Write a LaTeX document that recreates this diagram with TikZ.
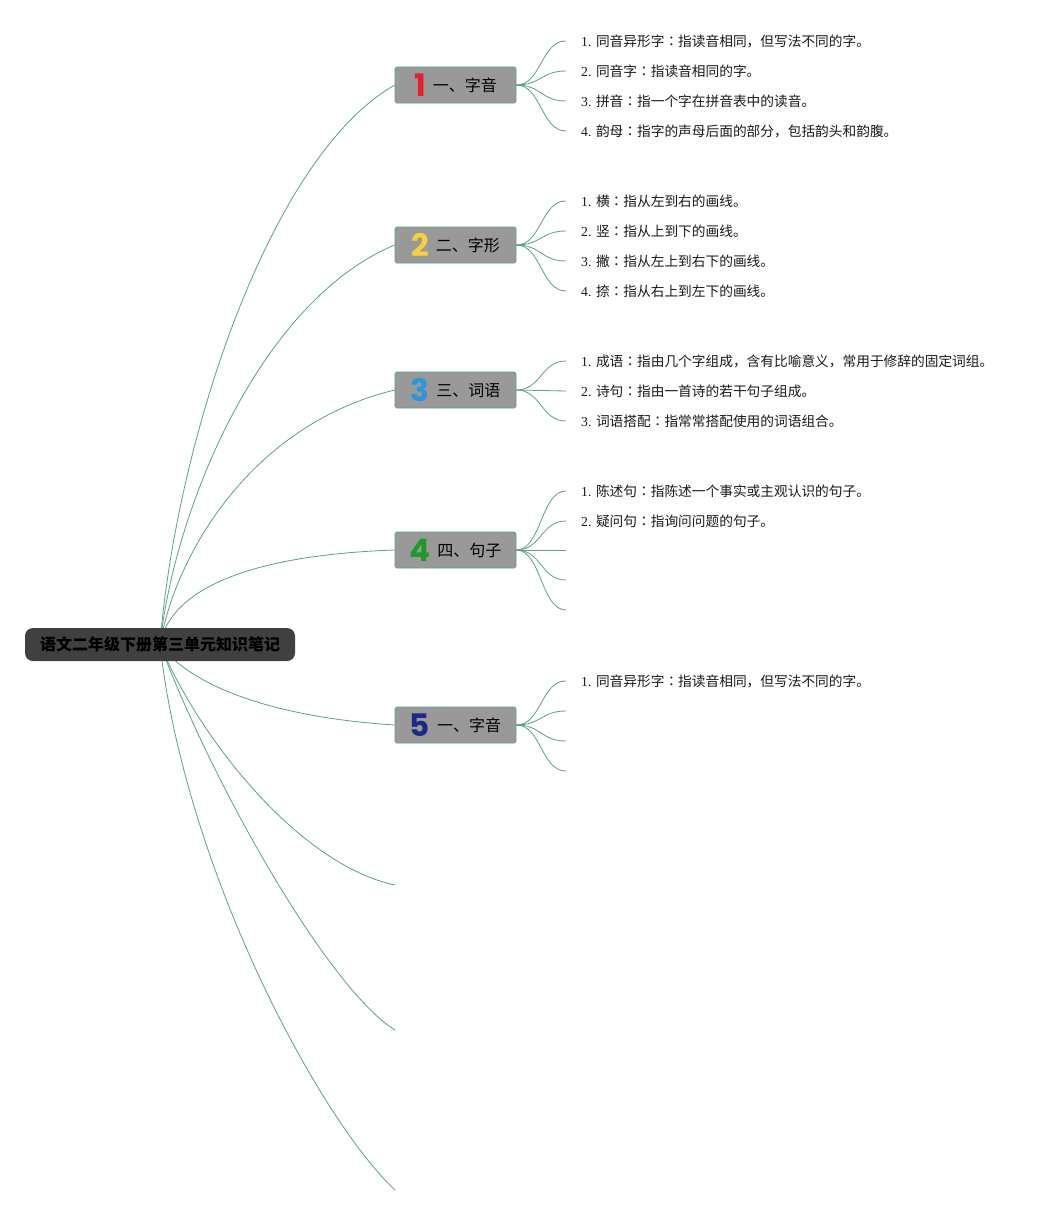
\documentclass[tikz,border=0pt]{standalone}
\usepackage{fontspec}
\setmainfont{Liberation Serif}
\newfontfamily\cjk{Noto Sans CJK SC}
\newfontfamily\cjktc{Noto Sans CJK TC}
\newfontfamily\digitfont{Poppins}
\usetikzlibrary{backgrounds}
\definecolor{linegreen}{HTML}{5E9E8A}
\definecolor{boxgray}{HTML}{999999}
\definecolor{rootgray}{HTML}{404040}
\definecolor{numred}{HTML}{E5202E}
\definecolor{numyellow}{HTML}{F4D23C}
\definecolor{numblue}{HTML}{2A96DC}
\definecolor{numgreen}{HTML}{1E9A2A}
\definecolor{numnavy}{HTML}{1C2A86}
\tikzset{
x=1pt, y=-1pt, % one unit is one pixel, y runs downwards
rootbox/.style={fill=rootgray, rounded corners=8pt, minimum width=270pt, minimum height=33pt, inner sep=0pt, text=black, font=\cjk\bfseries\fontsize{16}{16}\selectfont}, % the centre topic
topic/.style={fill=boxgray, draw=linegreen, line width=0.6pt, rounded corners=1.5pt, minimum width=121pt, minimum height=36pt, inner sep=0pt}, % main topics
leaf/.style={anchor=west, inner xsep=15pt, inner ysep=2pt, text=black!90, font=\fontsize{13.7}{16}\selectfont}, % the notes, west side is where the curve ends
branch/.style={draw=linegreen, line width=0.8pt}, % all connectors
}
\newcommand{\topictext}[3]{{\digitfont\bfseries\fontsize{31}{31}\selectfont\color{#1}#2}\hspace{7pt}\raisebox{5pt}{\cjk\fontsize{16}{16}\selectfont #3}}
\newcommand{\cncolon}{{\cjktc ：}}

\begin{document}
\begin{tikzpicture}
\useasboundingbox (0,0) rectangle (1061,1215);

% centre topic
\node[rootbox] (root) at (160,644.5) {语文二年级下册第三单元知识笔记};

% main topics
\node[topic] (b1) at (455.5,85) {\topictext{numred}{1}{一、字音}};
\node[topic] (b2) at (455.5,245) {\topictext{numyellow}{2}{二、字形}};
\node[topic] (b3) at (455.5,390) {\topictext{numblue}{3}{三、词语}};
\node[topic] (b4) at (455.5,550) {\topictext{numgreen}{4}{四、句子}};
\node[topic] (b5) at (455.5,725) {\topictext{numnavy}{5}{一、字音}};
\coordinate (e6) at (395,885);
\coordinate (e7) at (395,1030);
\coordinate (e8) at (395,1190);

% notes
\node[leaf] (t11) at (566,41) {1. {\cjk 同音异形字\cncolon 指读音相同，但写法不同的字。}};
\node[leaf] (t12) at (566,71) {2. {\cjk 同音字\cncolon 指读音相同的字。}};
\node[leaf] (t13) at (566,101) {3. {\cjk 拼音\cncolon 指一个字在拼音表中的读音。}};
\node[leaf] (t14) at (566,131) {4. {\cjk 韵母\cncolon 指字的声母后面的部分，包括韵头和韵腹。}};
\node[leaf] (t21) at (566,201) {1. {\cjk 横\cncolon 指从左到右的画线。}};
\node[leaf] (t22) at (566,231) {2. {\cjk 竖\cncolon 指从上到下的画线。}};
\node[leaf] (t23) at (566,261) {3. {\cjk 撇\cncolon 指从左上到右下的画线。}};
\node[leaf] (t24) at (566,291) {4. {\cjk 捺\cncolon 指从右上到左下的画线。}};
\node[leaf] (t31) at (566,361) {1. {\cjk 成语\cncolon 指由几个字组成，含有比喻意义，常用于修辞的固定词组。}};
\node[leaf] (t32) at (566,391) {2. {\cjk 诗句\cncolon 指由一首诗的若干句子组成。}};
\node[leaf] (t33) at (566,421) {3. {\cjk 词语搭配\cncolon 指常常搭配使用的词语组合。}};
\node[leaf] (t41) at (566,491) {1. {\cjk 陈述句\cncolon 指陈述一个事实或主观认识的句子。}};
\node[leaf] (t42) at (566,521) {2. {\cjk 疑问句\cncolon 指询问问题的句子。}};
\coordinate (e43) at (566,550);
\coordinate (e44) at (566,580);
\coordinate (e45) at (566,610);
\node[leaf] (t51) at (566,681) {1. {\cjk 同音异形字\cncolon 指读音相同，但写法不同的字。}};
\coordinate (e52) at (566,711);
\coordinate (e53) at (566,741);
\coordinate (e54) at (566,771);

\begin{scope}[on background layer]
% from the centre
\draw[branch] (root.center) .. controls (175,449) and (267,158) .. (b1.west);
\draw[branch] (root.center) .. controls (175,505) and (262,300) .. (b2.west);
\draw[branch] (root.center) .. controls (175,556) and (250,425) .. (b3.west);
\draw[branch] (root.center) .. controls (168,600) and (225,556) .. (b4.west);
\draw[branch] (root.center) .. controls (190,685) and (270,717) .. (b5.west);
\draw[branch] (root.center) .. controls (200,740) and (300,865) .. (e6);
\draw[branch] (root.center) .. controls (215,790) and (330,990) .. (e7);
\draw[branch] (root.center) .. controls (185,870) and (320,1120) .. (e8);
% to the notes
\draw[branch] (b1.east) .. controls +(25,0) and +(-25,0) .. (t11.west);
\draw[branch] (b1.east) .. controls +(25,0) and +(-25,0) .. (t12.west);
\draw[branch] (b1.east) .. controls +(25,0) and +(-25,0) .. (t13.west);
\draw[branch] (b1.east) .. controls +(25,0) and +(-25,0) .. (t14.west);
\draw[branch] (b2.east) .. controls +(25,0) and +(-25,0) .. (t21.west);
\draw[branch] (b2.east) .. controls +(25,0) and +(-25,0) .. (t22.west);
\draw[branch] (b2.east) .. controls +(25,0) and +(-25,0) .. (t23.west);
\draw[branch] (b2.east) .. controls +(25,0) and +(-25,0) .. (t24.west);
\draw[branch] (b3.east) .. controls +(25,0) and +(-25,0) .. (t31.west);
\draw[branch] (b3.east) .. controls +(25,0) and +(-25,0) .. (t32.west);
\draw[branch] (b3.east) .. controls +(25,0) and +(-25,0) .. (t33.west);
\draw[branch] (b4.east) .. controls +(25,0) and +(-25,0) .. (t41.west);
\draw[branch] (b4.east) .. controls +(25,0) and +(-25,0) .. (t42.west);
\draw[branch] (b4.east) .. controls +(25,0) and +(-25,0) .. (e43);
\draw[branch] (b4.east) .. controls +(25,0) and +(-25,0) .. (e44);
\draw[branch] (b4.east) .. controls +(25,0) and +(-25,0) .. (e45);
\draw[branch] (b5.east) .. controls +(25,0) and +(-25,0) .. (t51.west);
\draw[branch] (b5.east) .. controls +(25,0) and +(-25,0) .. (e52);
\draw[branch] (b5.east) .. controls +(25,0) and +(-25,0) .. (e53);
\draw[branch] (b5.east) .. controls +(25,0) and +(-25,0) .. (e54);
\end{scope}
\end{tikzpicture}
\end{document}
